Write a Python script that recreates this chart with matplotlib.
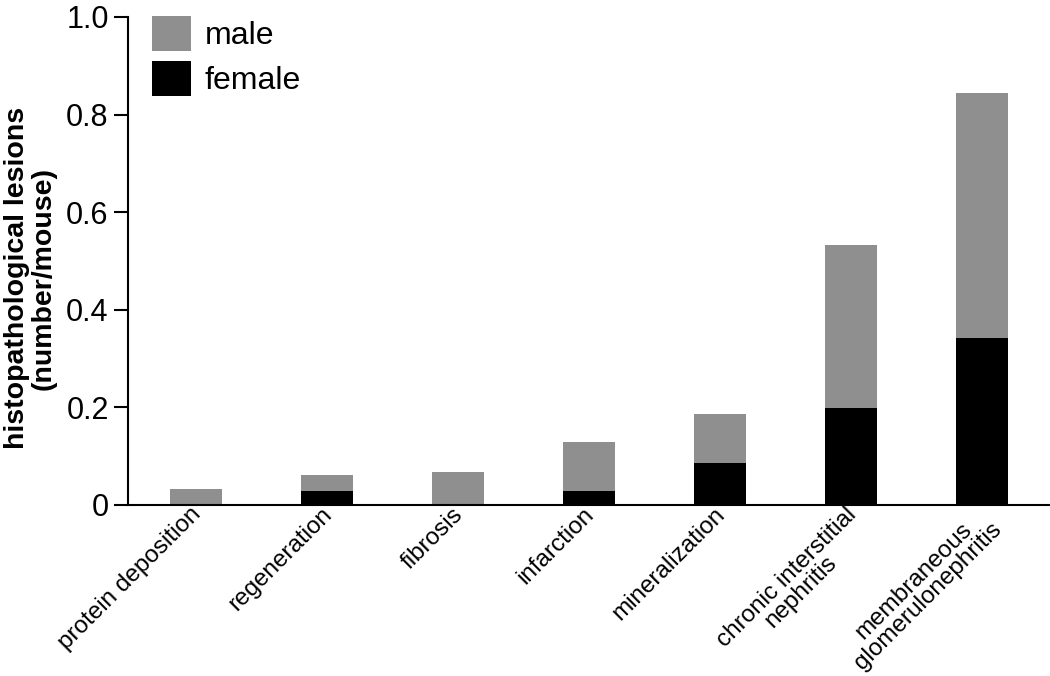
import numpy as np
import matplotlib
matplotlib.use("Agg")
import matplotlib.pyplot as plt
import matplotlib.transforms as mtransforms
from matplotlib.patches import Patch

plt.rcParams['font.family'] = ['Liberation Sans', 'DejaVu Sans']

categories = ["protein deposition", "regeneration", "fibrosis", "infarction",
              "mineralization", "chronic interstitial\nnephritis",
              "membraneous\nglomerulonephritis"]
female = [0.0, 0.029, 0.0, 0.029, 0.086, 0.199, 0.342]
total = [0.033, 0.061, 0.068, 0.129, 0.186, 0.533, 0.844]
male = [t - f for t, f in zip(total, female)]

yticks = [0, 0.2, 0.4, 0.6, 0.8, 1.0]
ytick_labels = ["0", "0.2", "0.4", "0.6", "0.8", "1.0"]

GRAY = "#8f8f8f"

fig = plt.figure(figsize=(10.5, 6.76), dpi=100)
ax = fig.add_axes([0.122, 0.253, 0.878, 0.722])

x = np.arange(len(categories))
ax.bar(x, female, width=0.4, color="black", label="female")
ax.bar(x, male, width=0.4, bottom=female, color=GRAY, label="male")

ax.set_xlim(-0.52, 6.52)
ax.set_ylim(0, 1.0)
ax.set_yticks(yticks)
ax.set_yticklabels(ytick_labels, fontsize=22)
ax.tick_params(axis="y", direction="out", length=10, width=1.5, pad=4)
ax.tick_params(axis="x", length=0, pad=1)
ax.set_xticks(x)
ax.set_xticklabels(categories, rotation=45, ha="right", rotation_mode="anchor",
                   fontsize=17.5, multialignment="center", linespacing=0.95)
# nudge labels so their ends sit just left of the bar centres
shift = mtransforms.ScaledTranslation(-6 / 100, 3 / 100, fig.dpi_scale_trans)
for lbl in ax.get_xticklabels():
    lbl.set_transform(lbl.get_transform() + shift)

for s in ["top", "right"]:
    ax.spines[s].set_visible(False)
ax.spines["left"].set_linewidth(1.5)
ax.spines["bottom"].set_linewidth(1.5)

ax.set_ylabel("histopathological lesions\n(number/mouse)", fontsize=20.5,
              fontweight="bold", linespacing=1.05)
ax.yaxis.set_label_coords(-0.077, 0.465)

handles = [Patch(facecolor=GRAY, label="male"),
           Patch(facecolor="black", label="female")]
ax.legend(handles=handles, loc="upper left", bbox_to_anchor=(-0.005, 1.06),
          frameon=False, fontsize=23, handlelength=1.2, handleheight=1.3,
          handletextpad=0.45, labelspacing=0.3)

fig.savefig("out.png", dpi=100)
